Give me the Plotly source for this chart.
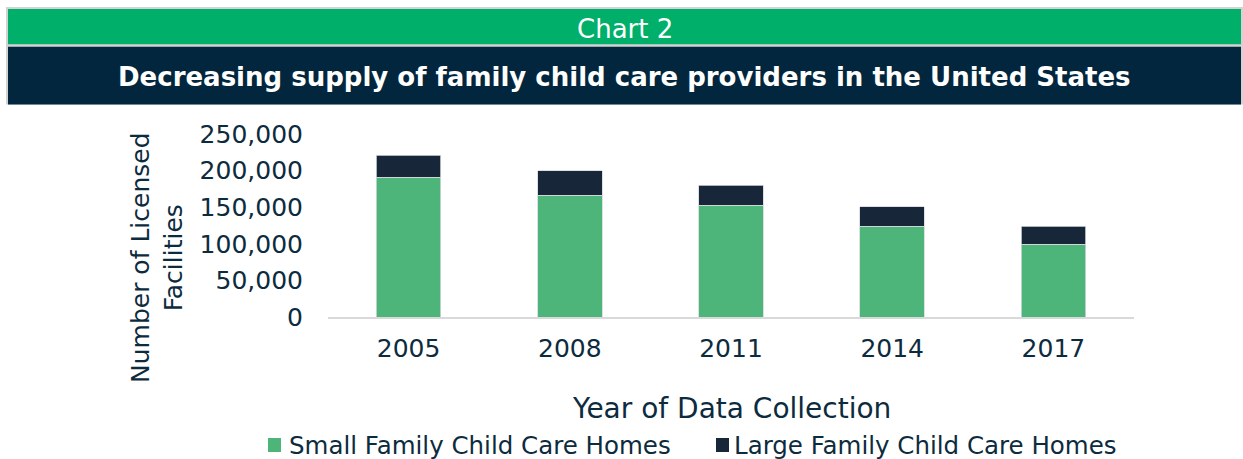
import plotly.graph_objects as go

years = ["2005", "2008", "2011", "2014", "2017"]
small_homes = [191000, 166300, 153000, 124300, 99700]
large_homes = [30300, 33200, 27300, 26400, 24600]
series_names = ["Small Family Child Care Homes", "Large Family Child Care Homes"]
series_colors = ["#4DB57A", "#172739"]
y_ticks = [0, 50000, 100000, 150000, 200000, 250000]
y_tick_labels = ["0", "50,000", "100,000", "150,000", "200,000", "250,000"]

W, H = 1243, 459
L, R, T, B = 328, 1134, 134, 317
FONT = "DejaVu Sans"
NAVY_TXT = "#0D2B3E"


def px(x):
    return (x - L) / (R - L)


def py(y):
    return (B - y) / (B - T)


fig = go.Figure()
for vals, name, col in zip([small_homes, large_homes], series_names, series_colors):
    fig.add_trace(go.Bar(x=years, y=vals, name=name, showlegend=False,
                         marker=dict(color=col, line=dict(width=0.8, color="#D4D8DC"))))

shapes = [
    dict(type="rect", xref="paper", yref="paper", x0=px(6), x1=px(1243), y0=py(7), y1=py(104.5),
         fillcolor="#D3D3D3", line=dict(width=0), layer="below"),
    dict(type="rect", xref="paper", yref="paper", x0=px(8), x1=px(1241), y0=py(9), y1=py(44.3),
         fillcolor="#00AF69", line=dict(width=0), layer="below"),
    dict(type="rect", xref="paper", yref="paper", x0=px(8), x1=px(1241), y0=py(46.7), y1=py(104.5),
         fillcolor="#01263D", line=dict(width=0), layer="below"),
]

annotations = [
    dict(text="Chart 2", x=px(624.5), y=py(29), xref="paper", yref="paper", showarrow=False,
         font=dict(family=FONT, size=26, color="white"), xanchor="center", yanchor="middle"),
    dict(text="Decreasing supply of family child care providers in the United States",
         x=px(624.5), y=py(77), xref="paper", yref="paper", showarrow=False,
         font=dict(family=FONT, size=26, color="white", weight=600), xanchor="center", yanchor="middle"),
    dict(text="Number of Licensed<br>Facilities", x=px(157), y=py(258), xref="paper", yref="paper",
         showarrow=False, textangle=-90, font=dict(family=FONT, size=25, color=NAVY_TXT),
         xanchor="center", yanchor="middle"),
    dict(text="Year of Data Collection", x=px(731), y=py(408), xref="paper", yref="paper",
         showarrow=False, font=dict(family=FONT, size=28, color=NAVY_TXT),
         xanchor="center", yanchor="middle"),
]

# manual legend
legend_items = [(268, 287), (716, 732)]
for (sx, tx), name, col in zip(legend_items, series_names, series_colors):
    shapes.append(dict(type="rect", xref="paper", yref="paper", x0=px(sx), x1=px(sx + 13),
                       y0=py(452), y1=py(438), fillcolor=col, line=dict(width=0)))
    annotations.append(dict(text=name, x=px(tx), y=py(445), xref="paper", yref="paper",
                            showarrow=False, xanchor="left", yanchor="middle",
                            font=dict(family=FONT, size=24.5, color=NAVY_TXT)))

fig.update_layout(
    width=W, height=H,
    margin=dict(l=L, r=W - R, t=T, b=H - B, pad=0),
    paper_bgcolor="white", plot_bgcolor="white",
    barmode="stack", bargap=0.6,
    shapes=shapes, annotations=annotations,
    showlegend=False,
    font=dict(family=FONT, color=NAVY_TXT),
)
fig.update_xaxes(showline=True, linecolor="#D9D9D9", linewidth=2, showgrid=False,
                 ticks="", tickfont=dict(family=FONT, size=25, color=NAVY_TXT),
                 ticklabelstandoff=8)
fig.update_yaxes(range=[0, 250000], tickvals=y_ticks, ticktext=y_tick_labels,
                 showgrid=False, zeroline=False, showline=False, ticks="",
                 tickfont=dict(family=FONT, size=25, color=NAVY_TXT),
                 ticklabelstandoff=24)

fig.write_html("out.html")
